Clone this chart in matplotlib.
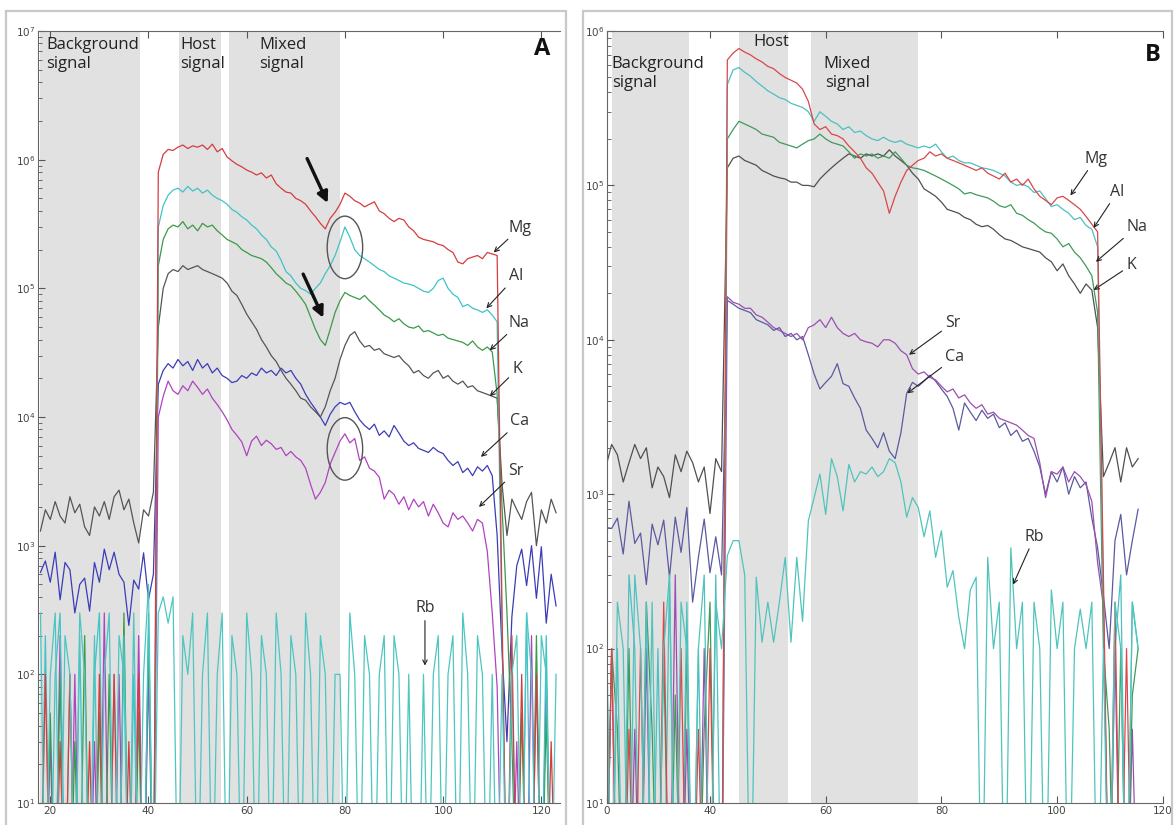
import numpy as np
import matplotlib
matplotlib.use("Agg")
import matplotlib.pyplot as plt
from matplotlib.patches import Ellipse, Rectangle

# time axis (s), one reading per second
t_a = np.arange(18, 124)   # panel A
t_b = np.arange(22, 115)   # panel B

# ---------------- panel A (counts per second) ----------------
mg_a = [1, 100, 1, 1, 30, 1, 100, 1, 1, 1,
        30, 1, 100, 1, 1, 100, 1, 1, 30, 1,
        100, 1, 1, 1, 8e5, 1.1e6, 1.2e6, 1.18e6, 1.25e6, 1.3e6,
        1.22e6, 1.28e6, 1.25e6, 1.3e6, 1.2e6, 1.32e6, 1.15e6, 1.22e6, 1.05e6, 9.8e5,
        9.2e5, 8.8e5, 8.3e5, 8.0e5, 7.6e5, 7.9e5, 7.2e5, 7.6e5, 6.5e5, 6.0e5,
        5.6e5, 5.5e5, 5.0e5, 4.8e5, 4.5e5, 4.0e5, 3.6e5, 3.2e5, 2.9e5, 3.5e5,
        3.9e5, 4.5e5, 5.5e5, 5.2e5, 4.8e5, 4.6e5, 4.3e5, 4.5e5, 4.7e5, 4.0e5,
        3.8e5, 3.5e5, 3.3e5, 3.5e5, 3.4e5, 3.0e5, 2.8e5, 2.5e5, 2.4e5, 2.35e5,
        2.3e5, 2.2e5, 2.15e5, 2.0e5, 1.9e5, 1.6e5, 1.55e5, 1.7e5, 1.75e5, 1.8e5,
        1.7e5, 1.9e5, 1.85e5, 1.8e5, 300, 1, 200, 1, 100, 1,
        1, 100, 1, 1, 30, 1]
al_a = [1, 200, 1, 100, 300, 1, 100, 1, 200, 1,
        1, 100, 300, 1, 1, 100, 1, 200, 1, 100,
        1, 1, 300, 1, 3e5, 4.4e5, 5.3e5, 5.8e5, 6.0e5, 5.6e5,
        6.2e5, 5.7e5, 6.0e5, 5.5e5, 5.8e5, 5.3e5, 5.0e5, 4.8e5, 4.5e5, 4.1e5,
        3.9e5, 3.6e5, 3.4e5, 3.1e5, 2.9e5, 2.6e5, 2.4e5, 2.1e5, 1.95e5, 1.65e5,
        1.35e5, 1.25e5, 1.1e5, 1.0e5, 9.6e4, 9.0e4, 1.0e5, 1.1e5, 1.3e5, 1.5e5,
        1.8e5, 2.3e5, 3.0e5, 2.5e5, 2.0e5, 1.8e5, 1.7e5, 1.6e5, 1.5e5, 1.4e5,
        1.35e5, 1.25e5, 1.2e5, 1.15e5, 1.1e5, 1.08e5, 1.05e5, 1.0e5, 9.5e4, 9.3e4,
        1.0e5, 1.15e5, 1.2e5, 1.0e5, 9.0e4, 8.5e4, 7.2e4, 7.5e4, 7.0e4, 6.8e4,
        6.5e4, 6.8e4, 6.2e4, 5.5e4, 200, 1, 100, 1, 1, 300,
        1, 100, 1, 200, 1, 1]
na_a = [1, 1, 50, 1, 100, 1, 1, 30, 1, 200,
        1, 1, 50, 1, 100, 1, 1, 300, 1, 1,
        50, 1, 200, 1, 1.5e5, 2.4e5, 2.9e5, 3.1e5, 3.0e5, 3.3e5,
        2.9e5, 3.1e5, 2.8e5, 3.2e5, 3.0e5, 3.1e5, 2.8e5, 2.6e5, 2.4e5, 2.3e5,
        2.2e5, 2.0e5, 1.9e5, 1.8e5, 1.75e5, 1.7e5, 1.6e5, 1.45e5, 1.3e5, 1.2e5,
        1.1e5, 1.05e5, 9.5e4, 8.5e4, 7.5e4, 6.0e4, 4.8e4, 4.0e4, 3.6e4, 4.8e4,
        6.5e4, 8.0e4, 9.3e4, 8.8e4, 8.5e4, 8.2e4, 8.8e4, 8.0e4, 7.4e4, 6.8e4,
        6.2e4, 5.9e4, 5.5e4, 5.8e4, 5.3e4, 5.0e4, 4.9e4, 5.1e4, 4.6e4, 4.7e4,
        4.5e4, 4.3e4, 4.4e4, 4.1e4, 4.0e4, 3.9e4, 3.8e4, 3.6e4, 3.9e4, 3.5e4,
        3.3e4, 3.5e4, 3.2e4, 1.5e4, 2000, 300, 30, 1, 50, 1,
        1, 200, 1, 50, 1, 1]
k_a = [1300, 1900, 1600, 2200, 1700, 1500, 2400, 1800, 2100, 1400,
       1200, 2000, 1700, 2200, 1600, 2400, 2700, 1900, 2300, 1500,
       1050, 1900, 1700, 2600, 5e4, 1e5, 1.3e5, 1.4e5, 1.35e5, 1.5e5,
       1.4e5, 1.45e5, 1.5e5, 1.4e5, 1.35e5, 1.3e5, 1.25e5, 1.2e5, 1.1e5, 9.5e4,
       8.8e4, 7.5e4, 6.3e4, 5.5e4, 4.8e4, 4.0e4, 3.5e4, 3.0e4, 2.7e4, 2.3e4,
       2.0e4, 1.8e4, 1.6e4, 1.4e4, 1.35e4, 1.2e4, 1.1e4, 1.0e4, 1.2e4, 1.6e4,
       2.0e4, 2.8e4, 3.6e4, 4.3e4, 4.6e4, 3.9e4, 3.5e4, 3.6e4, 3.3e4, 3.4e4,
       3.1e4, 3.0e4, 2.9e4, 3.0e4, 2.7e4, 2.5e4, 2.2e4, 2.3e4, 2.1e4, 2.0e4,
       2.2e4, 2.3e4, 2.0e4, 2.1e4, 1.9e4, 1.8e4, 1.9e4, 1.7e4, 1.75e4, 1.6e4,
       1.55e4, 1.5e4, 1.45e4, 1.4e4, 3000, 1200, 2300, 1900, 1600, 2200,
       2600, 1000, 1900, 1500, 2300, 1800]
ca_a = [620, 760, 520, 890, 380, 740, 650, 300, 500, 560,
        310, 740, 520, 940, 650, 890, 600, 520, 240, 540,
        460, 880, 380, 600, 1.8e4, 2.3e4, 2.6e4, 2.4e4, 2.8e4, 2.5e4,
        2.7e4, 2.3e4, 2.8e4, 2.4e4, 2.6e4, 2.2e4, 2.4e4, 2.1e4, 2.0e4, 1.85e4,
        1.9e4, 2.1e4, 2.0e4, 2.2e4, 2.1e4, 2.4e4, 2.2e4, 2.3e4, 2.1e4, 2.4e4,
        2.2e4, 2.3e4, 2.0e4, 1.8e4, 1.5e4, 1.3e4, 1.15e4, 1.0e4, 8.6e3, 1.05e4,
        1.2e4, 1.3e4, 1.25e4, 1.3e4, 1.1e4, 9.5e3, 8.6e3, 8.0e3, 8.8e3, 7.2e3,
        7.8e3, 7.0e3, 8.6e3, 7.5e3, 6.5e3, 6.0e3, 6.3e3, 5.7e3, 5.5e3, 5.3e3,
        5.8e3, 5.4e3, 5.2e3, 4.6e3, 4.2e3, 4.5e3, 3.7e3, 4.0e3, 3.5e3, 4.1e3,
        3.8e3, 4.2e3, 3.5e3, 1.2e3, 150, 30, 280, 700, 940, 490,
        1000, 390, 980, 250, 600, 340]
sr_a = [1, 1, 30, 1, 200, 1, 1, 100, 1, 1,
        1, 30, 1, 300, 1, 1, 100, 1, 1, 1,
        200, 1, 100, 1, 1.0e4, 1.45e4, 1.9e4, 1.6e4, 1.5e4, 1.75e4,
        1.6e4, 1.9e4, 1.7e4, 1.5e4, 1.65e4, 1.4e4, 1.25e4, 1.1e4, 9.5e3, 8.0e3,
        7.2e3, 6.4e3, 5.0e3, 6.5e3, 7.1e3, 6.0e3, 6.6e3, 6.2e3, 5.6e3, 5.8e3,
        5.0e3, 5.4e3, 4.9e3, 4.6e3, 4.0e3, 3.0e3, 2.3e3, 2.6e3, 3.1e3, 4.3e3,
        5.3e3, 6.5e3, 7.4e3, 6.3e3, 6.8e3, 4.6e3, 4.9e3, 4.0e3, 3.8e3, 3.4e3,
        2.3e3, 2.7e3, 2.5e3, 2.1e3, 2.4e3, 1.9e3, 2.3e3, 2.0e3, 2.2e3, 1.7e3,
        2.1e3, 1.8e3, 1.5e3, 1.4e3, 1.8e3, 1.6e3, 1.7e3, 1.5e3, 1.3e3, 1.6e3,
        1.5e3, 900, 300, 80, 1, 1, 1, 30, 1, 1,
        200, 1, 1, 100, 1, 1]
rb_a = [300, 1, 100, 300, 1, 200, 100, 1, 300, 100,
        1, 200, 1, 100, 300, 1, 200, 100, 1, 300,
        1, 100, 500, 1, 300, 400, 250, 400, 1, 200,
        100, 300, 1, 100, 300, 1, 100, 300, 1, 200,
        100, 1, 300, 100, 1, 200, 100, 1, 300, 100,
        1, 200, 100, 1, 300, 100, 1, 200, 100, 1,
        100, 100, 1, 300, 100, 1, 200, 100, 1, 100,
        200, 1, 200, 100, 1, 100, 1, 1, 100, 1,
        100, 200, 1, 100, 200, 1, 300, 100, 1, 200,
        100, 1, 100, 1, 100, 1, 100, 200, 1, 300,
        100, 1, 200, 100, 1, 100]

# ---------------- panel B (counts per second) ----------------
mg_b = [1, 100, 1, 1, 30, 1, 100, 1, 1, 1,
        200, 1, 1, 100, 1, 1, 30, 1, 100, 1,
        1, 6.5e5, 7.2e5, 7.7e5, 7.3e5, 7.0e5, 6.6e5, 6.3e5, 5.9e5, 5.7e5,
        5.3e5, 5.0e5, 4.8e5, 4.6e5, 4.2e5, 3.5e5, 2.5e5, 2.3e5, 2.4e5, 2.15e5,
        2.1e5, 2.0e5, 1.8e5, 1.65e5, 1.5e5, 1.3e5, 1.2e5, 1.05e5, 9.2e4, 6.6e4,
        8.5e4, 1.05e5, 1.25e5, 1.35e5, 1.45e5, 1.5e5, 1.65e5, 1.55e5, 1.6e5, 1.5e5,
        1.45e5, 1.4e5, 1.35e5, 1.3e5, 1.25e5, 1.3e5, 1.2e5, 1.15e5, 1.1e5, 1.2e5,
        1.05e5, 1.1e5, 1.0e5, 1.1e5, 9.5e4, 8.5e4, 8.0e4, 7.5e4, 8.3e4, 8.5e4,
        8.0e4, 7.5e4, 7.0e4, 6.3e4, 5.6e4, 5.0e4, 300, 1, 200, 1,
        100, 1, 1]
al_b = [200, 1, 100, 1, 300, 100, 1, 200, 1, 100,
        1, 300, 1, 1, 200, 1, 100, 1, 1, 300,
        1, 4.5e5, 5.6e5, 5.8e5, 5.4e5, 5.1e5, 4.7e5, 4.4e5, 4.1e5, 3.9e5,
        3.7e5, 3.6e5, 3.4e5, 3.3e5, 3.2e5, 3.0e5, 2.6e5, 3.0e5, 2.8e5, 2.6e5,
        2.5e5, 2.3e5, 2.4e5, 2.2e5, 2.25e5, 2.1e5, 2.0e5, 1.95e5, 2.05e5, 1.95e5,
        1.9e5, 1.95e5, 1.85e5, 1.8e5, 1.75e5, 1.8e5, 1.75e5, 1.85e5, 1.65e5, 1.5e5,
        1.55e5, 1.45e5, 1.4e5, 1.4e5, 1.35e5, 1.3e5, 1.28e5, 1.25e5, 1.2e5, 1.15e5,
        1.05e5, 1.0e5, 1.02e5, 9.8e4, 9.0e4, 9.2e4, 8.2e4, 7.3e4, 7.5e4, 7.0e4,
        6.6e4, 6.0e4, 6.2e4, 5.5e4, 5.2e4, 4.0e4, 200, 1, 100, 300,
        1, 200, 100]
na_b = [1, 100, 30, 1, 100, 1, 1, 200, 30, 1,
        100, 1, 50, 1, 100, 1, 1, 30, 200, 1,
        1, 2.0e5, 2.3e5, 2.6e5, 2.5e5, 2.4e5, 2.3e5, 2.15e5, 2.1e5, 2.05e5,
        1.9e5, 1.85e5, 1.8e5, 1.75e5, 1.85e5, 1.95e5, 2.0e5, 2.15e5, 2.0e5, 1.9e5,
        1.85e5, 1.8e5, 1.65e5, 1.5e5, 1.6e5, 1.55e5, 1.6e5, 1.5e5, 1.55e5, 1.5e5,
        1.65e5, 1.5e5, 1.35e5, 1.3e5, 1.28e5, 1.25e5, 1.2e5, 1.15e5, 1.1e5, 1.05e5,
        1.0e5, 9.5e4, 8.8e4, 9.0e4, 8.7e4, 8.5e4, 8.3e4, 7.9e4, 7.4e4, 7.2e4,
        7.5e4, 6.6e4, 6.4e4, 6.0e4, 5.7e4, 5.3e4, 5.0e4, 4.9e4, 4.5e4, 4.0e4,
        4.2e4, 3.7e4, 3.4e4, 3.0e4, 2.6e4, 1.5e4, 100, 30, 1, 100,
        1, 50, 100]
k_b = [1500, 2100, 1800, 1200, 1600, 2100, 1700, 2000, 1100, 1500,
       1300, 950, 1800, 1400, 1900, 1600, 1200, 1500, 750, 1700,
       1400, 1.3e5, 1.5e5, 1.55e5, 1.45e5, 1.4e5, 1.35e5, 1.25e5, 1.2e5, 1.15e5,
       1.12e5, 1.1e5, 1.05e5, 1.05e5, 1.0e5, 1.0e5, 9.8e4, 1.1e5, 1.2e5, 1.3e5,
       1.4e5, 1.5e5, 1.6e5, 1.55e5, 1.5e5, 1.6e5, 1.55e5, 1.6e5, 1.55e5, 1.7e5,
       1.55e5, 1.45e5, 1.35e5, 1.2e5, 1.1e5, 9.5e4, 9.0e4, 8.5e4, 7.8e4, 7.0e4,
       6.8e4, 6.6e4, 6.2e4, 6.0e4, 5.6e4, 5.4e4, 5.5e4, 5.2e4, 4.8e4, 4.5e4,
       4.4e4, 4.2e4, 4.0e4, 3.9e4, 3.8e4, 3.7e4, 3.4e4, 3.2e4, 2.8e4, 3.1e4,
       2.6e4, 2.3e4, 2.0e4, 2.3e4, 2.1e4, 1.2e4, 1300, 1600, 2000, 1200,
       2000, 1500, 1700]
ca_b = [610, 600, 700, 410, 900, 480, 560, 260, 640, 470,
        680, 290, 710, 420, 820, 200, 390, 690, 310, 530,
        300, 1.8e4, 1.7e4, 1.6e4, 1.55e4, 1.5e4, 1.35e4, 1.3e4, 1.25e4, 1.15e4,
        1.2e4, 1.05e4, 1.1e4, 1.0e4, 1.05e4, 8.0e3, 6.0e3, 4.8e3, 5.3e3, 5.8e3,
        7.0e3, 5.2e3, 5.0e3, 4.2e3, 3.6e3, 2.6e3, 2.3e3, 2.0e3, 2.5e3, 1.9e3,
        1.7e3, 2.5e3, 4.5e3, 5.3e3, 5.0e3, 5.4e3, 5.9e3, 5.4e3, 4.8e3, 4.3e3,
        3.6e3, 2.6e3, 3.9e3, 3.4e3, 3.0e3, 3.5e3, 3.1e3, 3.3e3, 2.7e3, 2.9e3,
        2.4e3, 2.6e3, 2.2e3, 2.3e3, 1.9e3, 1.5e3, 1.0e3, 1.4e3, 1.2e3, 1.5e3,
        1.0e3, 1.3e3, 1.1e3, 1.2e3, 700, 450, 220, 100, 500, 740,
        300, 500, 800]
sr_b = [1, 100, 1, 1, 1, 30, 1, 100, 1, 1,
        1, 1, 300, 1, 30, 1, 1, 100, 1, 1,
        1, 1.9e4, 1.75e4, 1.7e4, 1.6e4, 1.6e4, 1.45e4, 1.4e4, 1.3e4, 1.2e4,
        1.15e4, 1.1e4, 1.05e4, 1.1e4, 1.0e4, 1.2e4, 1.25e4, 1.35e4, 1.2e4, 1.4e4,
        1.2e4, 1.1e4, 1.05e4, 1.1e4, 1.0e4, 9.7e3, 9.5e3, 9.0e3, 1.0e4, 1.0e4,
        9.5e3, 8.5e3, 8.0e3, 6.5e3, 6.0e3, 6.2e3, 5.7e3, 5.5e3, 5.0e3, 4.6e3,
        4.8e3, 4.2e3, 4.4e3, 3.9e3, 3.6e3, 3.8e3, 3.3e3, 3.4e3, 3.1e3, 3.0e3,
        2.9e3, 2.8e3, 2.6e3, 2.4e3, 2.3e3, 1.6e3, 950, 1.4e3, 1.35e3, 1.5e3,
        1.2e3, 1.4e3, 1.3e3, 1.15e3, 900, 360, 190, 1, 100, 1,
        1, 30, 1]
rb_b = [300, 1, 200, 100, 1, 300, 100, 1, 200, 1,
        100, 300, 1, 200, 100, 1, 100, 300, 1, 200,
        100, 400, 500, 500, 300, 1, 290, 110, 200, 110,
        200, 390, 110, 390, 150, 670, 950, 1350, 740, 1700,
        1300, 780, 1560, 1200, 1400, 1350, 1500, 1300, 1400, 1700,
        1600, 1200, 710, 950, 820, 530, 780, 390, 580, 250,
        320, 160, 100, 240, 290, 1, 390, 100, 200, 1,
        450, 100, 200, 1, 200, 100, 1, 240, 100, 200,
        1, 100, 180, 100, 200, 1, 100, 1, 200, 100,
        1, 200, 100]

elements = ['Ca', 'K', 'Sr', 'Na', 'Al', 'Mg', 'Rb']
series_a = dict(Ca=ca_a, K=k_a, Sr=sr_a, Na=na_a, Al=al_a, Mg=mg_a, Rb=rb_a)
series_b = dict(Ca=ca_b, K=k_b, Sr=sr_b, Na=na_b, Al=al_b, Mg=mg_b, Rb=rb_b)
for name in elements:
    assert len(series_a[name]) == len(t_a), name
    assert len(series_b[name]) == len(t_b), name

colors_a = dict(Mg='#d63c3e', Al='#3ec3c8', Na='#3a9a48', K='#555555',
                Ca='#3c3cb8', Sr='#b043c0', Rb='#4cc6c0')
colors_b = dict(Mg='#d9474a', Al='#4bc0c0', Na='#3f9a5a', K='#505050',
                Ca='#5a5aa0', Sr='#9a4fb0', Rb='#4fc4bc')

# shaded signal windows (s)
bands_a = [(18.0, 38.2), (46.3, 54.8), (56.4, 79.0)]
bands_b = [(23.0, 36.3), (45.0, 53.4), (57.4, 75.9)]

FONT = ['Open Sans', 'DejaVu Sans']

fig = plt.figure(figsize=(11.76, 8.25), dpi=100)
ax_a = fig.add_axes([38 / 1176, 22 / 825, 522 / 1176, 772 / 825])
ax_b = fig.add_axes([607 / 1176, 22 / 825, 556 / 1176, 772 / 825])

# pasted-panel frames
for x0, x1 in [(6, 566), (583, 1172)]:
    fig.add_artist(Rectangle((x0 / 1176, -0.02), (x1 - x0) / 1176, (825 - 11) / 825 + 0.02,
                             transform=fig.transFigure, fill=False,
                             ec='#c8c8c8', lw=1.6))


def setup(ax, xlim, ylim):
    ax.set_yscale('log')
    ax.set_xlim(*xlim)
    ax.set_ylim(*ylim)
    ax.tick_params(axis='both', which='both', direction='in', top=True,
                   right=False, labelsize=7.5, colors='#444', pad=2)
    ax.tick_params(which='major', length=5, color='#555')
    ax.tick_params(which='minor', length=3, color='#555')
    for s in ['top', 'bottom', 'left']:
        ax.spines[s].set_color('#666')
    ax.spines['right'].set_visible(False)


def draw(ax, t, series, colors, bands):
    for lo, hi in bands:
        ax.axvspan(lo, hi, color='#e1e1e1', lw=0, zorder=0)
    for name in elements:
        ax.plot(t, series[name], color=colors[name], lw=0.9, zorder=2)


def label(ax, text, tx, ty, px, py, **kw):
    ax.annotate(text, xy=(px, py), xytext=(tx, ty), fontsize=11.5,
                family=FONT, color='#333', va='center', ha=kw.get('ha', 'left'),
                arrowprops=dict(arrowstyle='->', lw=0.8, color='#222',
                                mutation_scale=8, shrinkA=1, shrinkB=0),
                zorder=6)


# ---- panel A ----
draw(ax_a, t_a, series_a, colors_a, bands_a)
setup(ax_a, (17.5, 123.8), (10, 1e7))
ax_a.set_xticks([20, 40, 60, 80, 100, 120])

for txt, x in [('Background\nsignal', 19.2), ('Host\nsignal', 46.4), ('Mixed\nsignal', 62.6)]:
    ax_a.text(x, 9.0e6, txt, fontsize=12, family=FONT, va='top', ha='left',
              linespacing=1.3, color='#222', zorder=6)
ax_a.text(120.2, 7.3e6, 'A', fontsize=17, fontweight='bold', family=FONT,
          ha='center', va='center', color='#111', zorder=6)

labels_a = [('Mg', 113.4, 2.97e5, 110.3, 1.9e5), ('Al', 113.4, 1.24e5, 108.8, 7.0e4),
            ('Na', 113.4, 5.4e4, 109.5, 3.3e4), ('K', 114.1, 2.35e4, 109.5, 1.45e4),
            ('Ca', 113.7, 9.3e3, 107.7, 4.9e3), ('Sr', 113.3, 3.8e3, 107.3, 2.0e3)]
for name, tx, ty, px, py in labels_a:
    label(ax_a, name, tx, ty, px, py)
label(ax_a, 'Rb', 96.3, 325, 96.3, 117, ha='center')

for (x0, y0), (x1, y1) in [((72.3, 1.02e6), (76.5, 4.6e5)), ((71.5, 1.29e5), (75.6, 5.9e4))]:
    ax_a.annotate('', xy=(x1, y1), xytext=(x0, y0),
                  arrowprops=dict(arrowstyle='-|>', lw=2.4, color='#111',
                                  mutation_scale=16, shrinkA=0, shrinkB=0), zorder=7)

for cy in [2.08e5, 5.65e3]:
    cx_f, cy_f = ax_a.transAxes.inverted().transform(ax_a.transData.transform((80.0, cy)))
    ax_a.add_patch(Ellipse((cx_f, cy_f), 0.068, 0.081, transform=ax_a.transAxes,
                           fill=False, ec='#555', lw=1.0, zorder=7))

# ---- panel B ----
draw(ax_b, t_b, series_b, colors_b, bands_b)
setup(ax_b, (22.2, 118.3), (10, 1e6))
ax_b.set_xticks([22.2, 40, 60, 80, 100, 118.3])
ax_b.set_xticklabels(['0', '40', '60', '80', '100', '120'])

ax_b.text(23.0, 6.9e5, 'Background\nsignal', fontsize=12, family=FONT, va='top',
          ha='left', linespacing=1.3, color='#222', zorder=6)
ax_b.text(47.5, 9.55e5, 'Host', fontsize=12, family=FONT, va='top', ha='left',
          color='#222', zorder=6)
ax_b.text(63.7, 6.9e5, 'Mixed\nsignal', fontsize=12, family=FONT, va='top',
          ha='center', linespacing=1.3, color='#222', zorder=6)
ax_b.text(116.6, 7.0e5, 'B', fontsize=17, fontweight='bold', family=FONT,
          ha='center', va='center', color='#111', zorder=6)

labels_b = [('Mg', 104.7, 1.49e5, 102.3, 8.6e4), ('Al', 109.2, 9.1e4, 106.3, 5.3e4),
            ('Na', 112.0, 5.4e4, 106.7, 3.2e4), ('K', 112.0, 3.05e4, 106.3, 2.1e4),
            ('Sr', 80.7, 1.29e4, 74.4, 8.0e3), ('Ca', 80.7, 7.7e3, 74.1, 4.5e3),
            ('Rb', 94.4, 530, 92.4, 260)]
for name, tx, ty, px, py in labels_b:
    label(ax_b, name, tx, ty, px, py)

fig.savefig('out.png', dpi=100)
